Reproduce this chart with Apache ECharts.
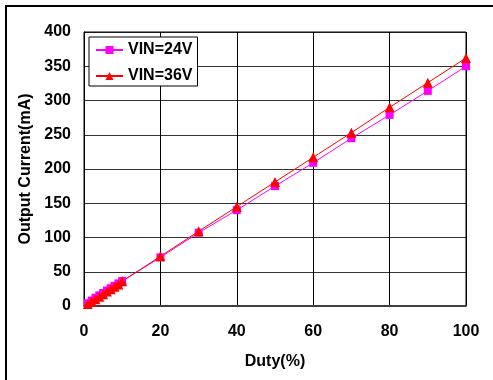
<!DOCTYPE html>
<html>
<head>
<meta charset="utf-8">
<script src="https://cdn.jsdelivr.net/npm/echarts@6/dist/echarts.min.js"></script>
<style>
html,body{margin:0;padding:0;background:#fff;}
#chart{width:493px;height:380px;}
</style>
</head>
<body>
<div id="chart"></div>
<script>
// Duty cycle (%) sample points
const duty = [1, 2, 3, 4, 5, 6, 7, 8, 9, 10, 20, 30, 40, 50, 60, 70, 80, 90, 100];
// Output current (mA) for each input voltage
const vin24 = [4, 8, 12, 15.5, 19, 22.5, 26, 29.5, 33, 36.5, 71, 107, 140, 175, 209, 245, 279, 314, 350];
const vin36 = [3, 6.5, 10, 13.5, 17, 21, 24.5, 28, 31.5, 36, 72.5, 109, 145, 181, 217, 253, 290, 326, 362];
const seriesNames = ['VIN=24V', 'VIN=36V'];

const font = 'Liberation Sans, Arial, sans-serif';
const chart = echarts.init(document.getElementById('chart'), null, {renderer: 'canvas'});

chart.setOption({
  animation: false,
  backgroundColor: '#fff',
  grid: {left: 84, top: 32, width: 382, height: 274, containLabel: false},
  graphic: [{
    type: 'rect', z: 0,
    shape: {x: 6, y: 6, width: 520, height: 400},
    style: {fill: 'none', stroke: '#000', lineWidth: 2}
  }, {
    type: 'rect', z: 1,
    shape: {x: 84, y: 32, width: 382, height: 274},
    style: {fill: 'none', stroke: '#000', lineWidth: 1}
  }],
  legend: {
    left: 89, top: 37, orient: 'vertical',
    padding: [5, 5, 2, 6], itemGap: 10,
    backgroundColor: '#fff', borderColor: '#000', borderWidth: 1,
    itemWidth: 27, itemHeight: 10,
    textStyle: {fontFamily: font, fontWeight: 'bold', fontSize: 16, lineHeight: 16, color: '#000'},
    data: seriesNames
  },
  xAxis: {
    type: 'value', min: 0, max: 100, interval: 20,
    name: 'Duty(%)', nameLocation: 'middle', nameGap: 48,
    nameTextStyle: {fontFamily: font, fontWeight: 'bold', fontSize: 16, color: '#000'},
    axisLine: {show: true, lineStyle: {color: '#808080', width: 2}},
    axisTick: {show: false},
    axisLabel: {fontFamily: font, fontWeight: 'bold', fontSize: 16, color: '#000', margin: 18},
    splitLine: {show: true, lineStyle: {color: '#000', width: 1}}
  },
  yAxis: {
    type: 'value', min: 0, max: 400, interval: 50,
    name: 'Output Current(mA)', nameLocation: 'middle', nameGap: 49,
    nameTextStyle: {fontFamily: font, fontWeight: 'bold', fontSize: 16, color: '#000'},
    axisLine: {show: true, lineStyle: {color: '#000', width: 1}},
    axisTick: {show: false},
    axisLabel: {fontFamily: font, fontWeight: 'bold', fontSize: 16, color: '#000', margin: 13},
    splitLine: {show: true, lineStyle: {color: '#333', width: 1}}
  },
  series: [{
    name: seriesNames[0], type: 'line',
    data: duty.map((d, i) => [d, vin24[i]]),
    symbol: 'rect', symbolSize: 8,
    itemStyle: {color: '#ff00ff'},
    lineStyle: {color: '#ff00ff', width: 1}
  }, {
    name: seriesNames[1], type: 'line',
    data: duty.map((d, i) => [d, vin36[i]]),
    symbol: 'triangle', symbolSize: 10,
    itemStyle: {color: '#ff0000'},
    lineStyle: {color: '#ff0000', width: 1}
  }]
});
</script>
</body>
</html>
